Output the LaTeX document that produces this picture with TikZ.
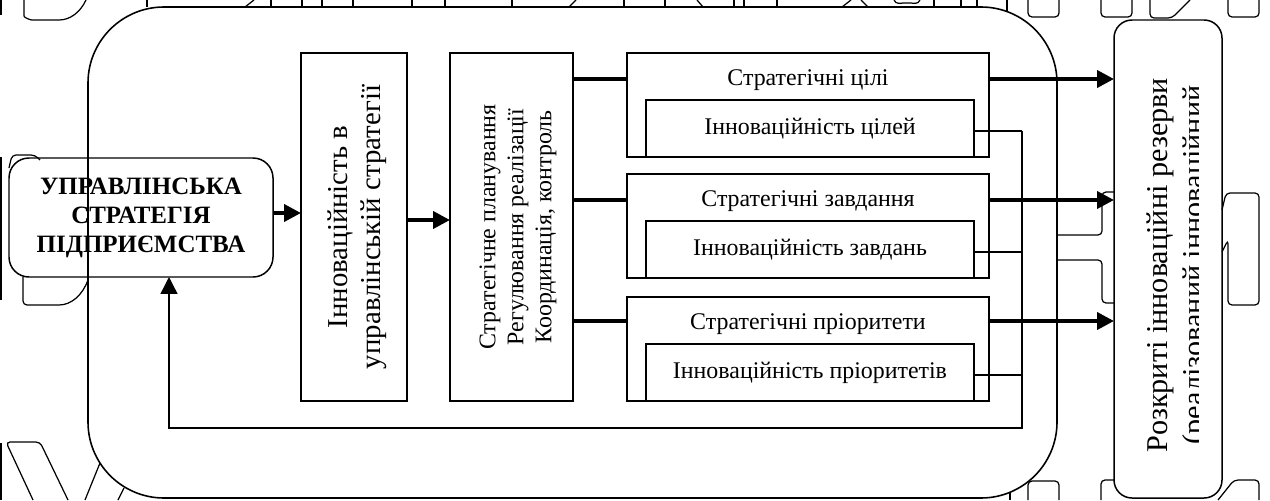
\documentclass[tikz,border=0pt]{standalone}
\usepackage{fontspec}
\setmainfont{Liberation Serif}
\usetikzlibrary{arrows.meta,fit}

\begin{document}
\begin{tikzpicture}[x=0.02cm,y=-0.02cm,
  box/.style={draw, line width=0.85pt, inner sep=0pt, outer sep=0pt},
  link/.style={line width=2.2pt},
  thinlink/.style={line width=0.8pt},
  tip/.style={-{Triangle[length=0.34cm,width=0.34cm]}},
  trace/.style={line width=0.7pt, rounded corners=0.08cm},
  lbl/.style={font=\fontsize{13.6}{16}\selectfont, inner sep=0pt},
]
\useasboundingbox (0,0) rectangle (1270,500);

% outer frame
\node[box, line width=0.9pt, rounded corners=1.52cm, fit={(88,7)(1057,498)}] (frame) {};

% strategy box
\node[box, rounded corners=0.4cm, fit={(9,158)(273,277)}] (strat) {};
\node[align=center, inner sep=0pt, font=\bfseries\fontsize{14.2}{16.4}\selectfont]
  (strattext) at (141,218) {УПРАВЛІНСЬКА\\СТРАТЕГІЯ\\ПІДПРИЄМСТВА};

% innovation in strategy
\node[box, fit={(301,53)(407,401)}] (innov) {};
\node[rotate=90, align=center, inner sep=0pt, font=\fontsize{16.4}{18.7}\selectfont]
  (innovtext) at (357,227) {Інноваційність в\\управлінській стратегії};

% management functions
\node[box, fit={(450,53)(573,401)}] (plan) {};
\node[rotate=90, align=center, inner sep=0pt, font=\fontsize{13.6}{15.9}\selectfont]
  (plantext) at (518,227) {Стратегічне планування\\Регулювання реалізації\\Координація, контроль};

% goals / tasks / priorities
\node[box, fit={(627,53)(989,157)}] (goals) {};
\node[box, fit={(646,100)(974,157)}] (goalsin) {};
\node[lbl] (goalst) at (808,80) {Стратегічні цілі};
\node[lbl] (goalsint) at (810,129) {Інноваційність цілей};

\node[box, fit={(627,174)(989,278)}] (tasks) {};
\node[box, fit={(646,221)(974,278)}] (tasksin) {};
\node[lbl] (taskst) at (808,201) {Стратегічні завдання};
\node[lbl] (tasksint) at (810,250) {Інноваційність завдань};

\node[box, fit={(627,297)(989,401)}] (prios) {};
\node[box, fit={(646,344)(974,401)}] (priosin) {};
\node[lbl] (priost) at (808,324) {Стратегічні пріоритети};
\node[lbl] (priosint) at (810,373) {Інноваційність пріоритетів};

% reserves box
\node[box, rounded corners=0.36cm, fit={(1114,20)(1222,498)}] (reserve) {};
\begin{scope}
  \clip (1114,20) rectangle (1198,498);
  \node[rotate=90, align=center, inner sep=0pt, font=\fontsize{17.2}{20.4}\selectfont]
    (reservetext) at (1178,265) {Розкриті інноваційні резерви\\(реалізований інноваційний};
\end{scope}

% connector levels
\coordinate (a1) at (0,213);
\coordinate (a2) at (0,220);
\coordinate (r1) at (0,79);
\coordinate (r2) at (0,200);
\coordinate (r3) at (0,321);
\coordinate (g1) at (0,131);
\coordinate (g2) at (0,252);
\coordinate (g3) at (0,375);
\coordinate (fb) at (1022,428);
\coordinate (fbx) at (169,0);

\draw[link,tip] (strat.east |- a1) -- (innov.west |- a1);
\draw[link,tip] (innov.east |- a2) -- (plan.west |- a2);

\draw[link] (plan.east |- r1) -- (goals.west |- r1);
\draw[link] (plan.east |- r2) -- (tasks.west |- r2);
\draw[link] (plan.east |- r3) -- (prios.west |- r3);

\draw[link,tip] (goals.east |- r1) -- (reserve.west |- r1);
\draw[link,tip] (tasks.east |- r2) -- (reserve.west |- r2);
\draw[link,tip] (prios.east |- r3) -- (reserve.west |- r3);

% feedback loop
\draw[thinlink] (goalsin.east |- g1) -- (fb |- g1);
\draw[thinlink] (tasksin.east |- g2) -- (fb |- g2);
\draw[thinlink] (priosin.east |- g3) -- (fb |- g3);
\draw[thinlink,tip] (fb |- g1) -- (fb) -- (fbx |- fb) -- (fbx |- strat.south);

% background outlines
\draw[trace] (1,0) -- (1,15);
\draw[trace] (24,0) -- (24,12) to[out=-90,in=180] (36,20) -- (55,20) to[out=0,in=-115] (86,0);
\foreach \x in {147,271,302,322,353,412,445,512,624,665,734,744,777,934,961,977}
  \draw[trace] (\x,0) -- (\x,7);
\draw[trace] (245,7) -- (254,0);
\draw[trace] (569,7) -- (576,0);
\draw[trace] (697,0) -- (703,7);
\draw[trace] (842,7) -- (851,0);
\draw[trace] (861,0) -- (868,7);
\draw[trace] (894,0) to[out=-70,in=180] (907,3) to[out=0,in=-110] (920,0);
\draw[trace] (1007,0) -- (1007,12);
\draw[trace] (1028,0) -- (1028,17) -- (1059,17) -- (1059,0);
\draw[trace] (1101,0) -- (1101,17) -- (1132,17) -- (1132,0);
\draw[trace] (1150,0) -- (1150,18) -- (1172,18) -- (1190,0);
\draw[trace] (1228,0) -- (1228,17) -- (1259,17) -- (1259,0);

\draw[trace] (1114,192) -- (1102,192) -- (1102,235) -- (1057,235);
\draw[trace] (1057,260) -- (1102,260) -- (1102,303) -- (1114,303);
\draw[trace] (1222,210) -- (1226,193) -- (1259,193) -- (1259,305) -- (1228,305) -- (1228,240) -- (1222,252);

\draw[trace] (1,157) -- (1,300);
\draw[trace] (1,443) -- (1,500);
\draw[trace] (9,168) -- (12,155) -- (35,155) -- (40,160);
\draw[trace] (23,277) -- (23,305) -- (55,305) to[out=0,in=-110] (88,280);
\draw[trace] (33,500) -- (6,442) -- (40,442) -- (68,500);
\draw[trace] (100,463) -- (85,500);
\draw[trace] (124,488) -- (118,500);

\draw[trace] (1010,492) -- (1010,500);
\draw[trace] (1028,500) -- (1028,481) -- (1059,481) -- (1059,500);
\draw[trace] (1101,500) -- (1101,480) -- (1114,480);
\draw[trace] (1218,500) -- (1234,480) -- (1259,480) -- (1259,500);
\end{tikzpicture}
\end{document}
